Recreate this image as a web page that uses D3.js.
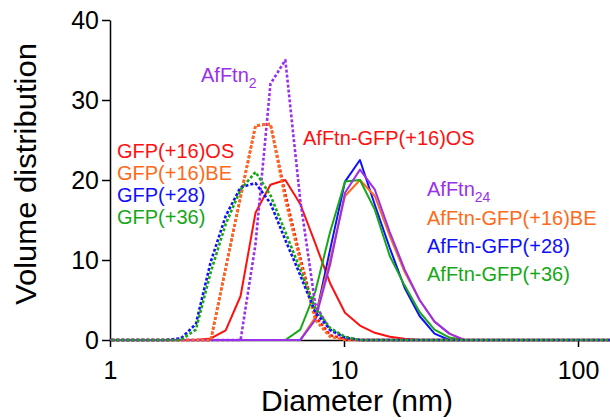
<!DOCTYPE html>
<html>
<head>
<meta charset="utf-8">
<script src="https://cdn.jsdelivr.net/npm/d3@7"></script>
<style>
  body { margin: 0; background: #fff; }
  svg { display: block; font-family: "Liberation Sans", Arial, sans-serif; }
  .axis path, .axis line { stroke: #000; stroke-width: 1.5; }
  .axis text { font-size: 25px; fill: #000; }
</style>
</head>
<body>
<svg id="chart" width="610" height="420"></svg>
<script>
// DLS size bins (nm)
const sizes = [0.965, 1.117, 1.294, 1.499, 1.736, 2.010, 2.328, 2.696, 3.122, 3.615, 4.187, 4.849,
  5.615, 6.503, 7.531, 8.721, 10.10, 11.70, 13.54, 15.69, 18.17, 21.04, 24.36, 28.21,
  32.67, 37.84, 43.82, 50.75, 58.77, 68.06, 78.82, 91.28, 105.7, 122.4, 141.8, 164.2];

// volume distribution (%) per bin
const gfp16os = [0, 0, 0, 0, 0, 0, 0, 0, 9, 17.9, 26.8, 27, 18.2, 10.3, 3, 0.6, 0.1, 0,
  0, 0, 0, 0, 0, 0, 0, 0, 0, 0, 0, 0, 0, 0, 0, 0, 0, 0];
const gfp16be = [0, 0, 0, 0, 0, 0, 0, 0, 9, 17.9, 26.8, 27, 17.5, 9.8, 2.5, 0.4, 0, 0,
  0, 0, 0, 0, 0, 0, 0, 0, 0, 0, 0, 0, 0, 0, 0, 0, 0, 0];
const gfp28 = [0, 0, 0, 0, 0, 0.2, 2, 9.8, 15.5, 19.1, 19.6, 17.1, 12.5, 8.1, 3.5, 1.3, 0.3, 0,
  0, 0, 0, 0, 0, 0, 0, 0, 0, 0, 0, 0, 0, 0, 0, 0, 0, 0];
const gfp36 = [0, 0, 0, 0, 0, 0, 1.3, 8.5, 14.5, 18.8, 21, 18.1, 13.5, 8.8, 4, 1.5, 0.4, 0,
  0, 0, 0, 0, 0, 0, 0, 0, 0, 0, 0, 0, 0, 0, 0, 0, 0, 0];
const afftn2 = [0, 0, 0, 0, 0, 0, 0, 0, 0, 0, 12, 32, 35, 17.5, 4.5, 1.2, 0.3, 0,
  0, 0, 0, 0, 0, 0, 0, 0, 0, 0, 0, 0, 0, 0, 0, 0, 0, 0];
const afftnGfp16os = [0, 0, 0, 0, 0, 0, 0, 0.2, 1.2, 5.5, 15.9, 19.4, 20, 17, 12.1, 7.1, 3.4, 1.8,
  0.9, 0.4, 0.15, 0, 0, 0, 0, 0, 0, 0, 0, 0, 0, 0, 0, 0, 0, 0];
const afftn24 = [0, 0, 0, 0, 0, 0, 0, 0, 0, 0, 0, 0, 0, 0, 2.5, 9.4, 18.4, 21.3,
  18.8, 13.5, 8.8, 5, 2.3, 0.8, 0, 0, 0, 0, 0, 0, 0, 0, 0, 0, 0, 0];
const afftnGfp16be = [0, 0, 0, 0, 0, 0, 0, 0, 0, 0, 0, 0, 0, 0, 2.8, 10, 18, 20,
  18, 13, 8.5, 5, 2.3, 0.8, 0, 0, 0, 0, 0, 0, 0, 0, 0, 0, 0, 0];
const afftnGfp28 = [0, 0, 0, 0, 0, 0, 0, 0, 0, 0, 0, 0, 0, 0, 2.6, 11.3, 19.8, 22.5,
  16.9, 11.5, 6.5, 3, 0.8, 0, 0, 0, 0, 0, 0, 0, 0, 0, 0, 0, 0, 0];
const afftnGfp36 = [0, 0, 0, 0, 0, 0, 0, 0, 0, 0, 0, 0, 0, 1.3, 6, 13.5, 19.8, 20,
  16.3, 10.5, 6.8, 3.5, 1.3, 0.3, 0, 0, 0, 0, 0, 0, 0, 0, 0, 0, 0, 0];

const xTicks = [1, 10, 100];
const yTicks = [0, 10, 20, 30, 40];

const RED = '#ff1010';
const ORANGE = '#ff6a1a';
const BLUE = '#1010ff';
const GREEN = '#16a816';
const PURPLE = '#9a30ec';

// drawing order: solids first, dashed on top
const series = [
  { values: afftnGfp16os, color: RED, dashed: false },
  { values: afftnGfp28, color: BLUE, dashed: false },
  { values: afftnGfp16be, color: ORANGE, dashed: false },
  { values: afftnGfp36, color: GREEN, dashed: false },
  { values: afftn24, color: PURPLE, dashed: false },
  { values: afftn2, color: PURPLE, dashed: true },
  { values: gfp16os, color: RED, dashed: true },
  { values: gfp16be, color: ORANGE, dashed: true },
  { values: gfp28, color: BLUE, dashed: true },
  { values: gfp36, color: GREEN, dashed: true },
];

const svg = d3.select('#chart');
const margin = { top: 20, right: 0, bottom: 80, left: 110 };
const width = 610, height = 420;

const x = d3.scaleLog().domain([1, 137]).range([margin.left, width - margin.right]);
const y = d3.scaleLinear().domain([0, 40]).range([height - margin.bottom, margin.top]);

svg.append('defs').append('clipPath').attr('id', 'plot')
  .append('rect')
  .attr('x', margin.left)
  .attr('y', 0)
  .attr('width', width - margin.left)
  .attr('height', height - margin.bottom + 4);

// axes
svg.append('g')
  .attr('class', 'axis')
  .attr('transform', `translate(0,${y(0)})`)
  .call(d3.axisBottom(x).tickValues(xTicks).tickFormat(d3.format('d'))
    .tickSize(7).tickSizeOuter(0).tickPadding(14));

svg.append('g')
  .attr('class', 'axis')
  .attr('transform', `translate(${margin.left},0)`)
  .call(d3.axisLeft(y).tickValues(yTicks).tickSize(8).tickSizeOuter(0).tickPadding(3));

// curves
const line = d3.line()
  .x(d => x(d[0]))
  .y(d => y(d[1]));

svg.append('g')
  .attr('clip-path', 'url(#plot)')
  .selectAll('path')
  .data(series)
  .join('path')
  .attr('d', s => line(d3.zip(sizes, s.values)))
  .attr('fill', 'none')
  .attr('stroke', s => s.color)
  .attr('stroke-width', s => (s.dashed ? 2.6 : 2))
  .attr('stroke-dasharray', s => (s.dashed ? '3,2' : null))
  .attr('stroke-linejoin', 'round');

// labels next to the curves
const labels = [
  { text: 'GFP(+16)OS', color: RED, x: 117, y: 158 },
  { text: 'GFP(+16)BE', color: ORANGE, x: 117, y: 180 },
  { text: 'GFP(+28)', color: BLUE, x: 117, y: 202 },
  { text: 'GFP(+36)', color: GREEN, x: 117, y: 224 },
  { text: 'AfFtn', sub: '2', color: PURPLE, x: 201, y: 82 },
  { text: 'AfFtn-GFP(+16)OS', color: RED, x: 303, y: 145 },
  { text: 'AfFtn', sub: '24', color: PURPLE, x: 427, y: 196 },
  { text: 'AfFtn-GFP(+16)BE', color: ORANGE, x: 427, y: 225 },
  { text: 'AfFtn-GFP(+28)', color: BLUE, x: 427, y: 253 },
  { text: 'AfFtn-GFP(+36)', color: GREEN, x: 427, y: 281 },
];

const lab = svg.append('g')
  .selectAll('text')
  .data(labels)
  .join('text')
  .attr('x', d => d.x)
  .attr('y', d => d.y)
  .attr('fill', d => d.color)
  .style('font-size', '20px');

lab.append('tspan').text(d => d.text);
lab.filter(d => d.sub)
  .append('tspan')
  .attr('dy', 6)
  .style('font-size', '14px')
  .text(d => d.sub);

// axis titles (the original font runs wider than Arial)
svg.append('text')
  .attr('transform', 'translate(36,174) rotate(-90)')
  .attr('text-anchor', 'middle')
  .attr('textLength', 262)
  .attr('lengthAdjust', 'spacingAndGlyphs')
  .style('font-size', '29px')
  .text('Volume distribution');

svg.append('text')
  .attr('x', 357)
  .attr('y', 411)
  .attr('text-anchor', 'middle')
  .attr('textLength', 192)
  .attr('lengthAdjust', 'spacingAndGlyphs')
  .style('font-size', '29px')
  .text('Diameter (nm)');
</script>
</body>
</html>
